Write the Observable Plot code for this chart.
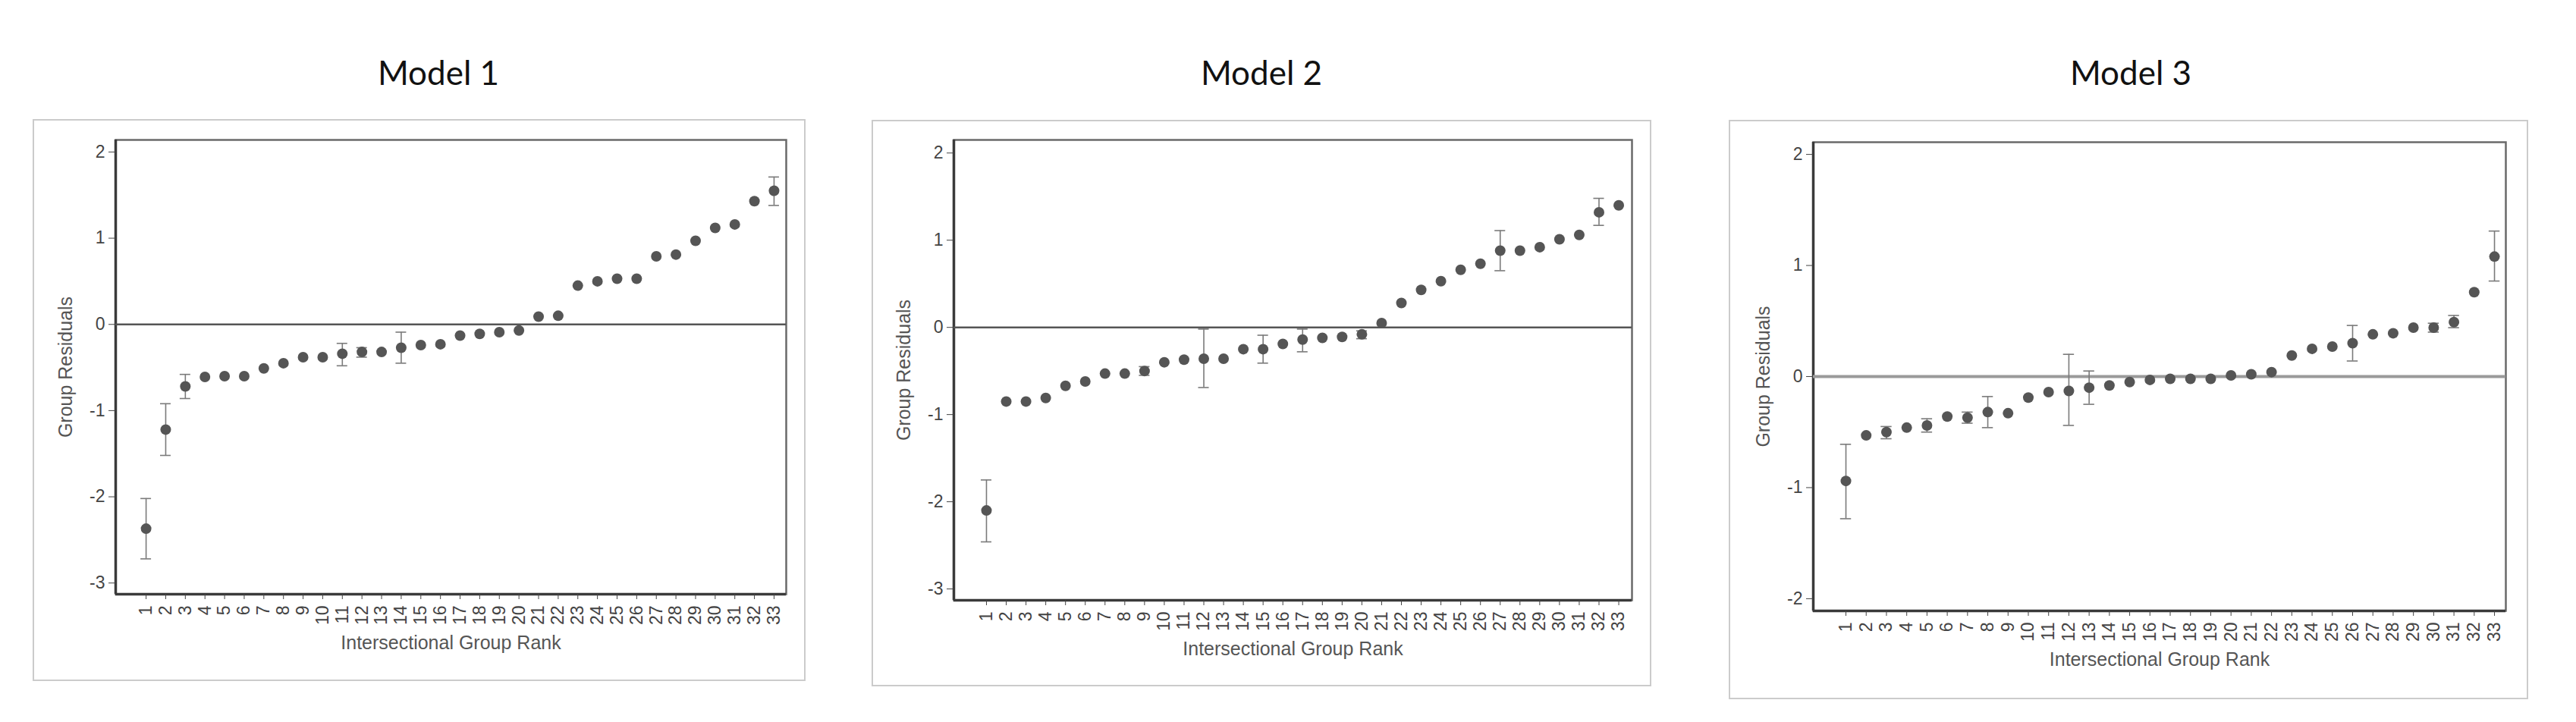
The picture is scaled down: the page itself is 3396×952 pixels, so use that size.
<!DOCTYPE html>
<html><head><meta charset="utf-8">
<script src="https://cdn.jsdelivr.net/npm/d3@7"></script>
<script src="https://cdn.jsdelivr.net/npm/@observablehq/plot@0.6"></script>
<style>
body{margin:0;background:#fff;}
#page{position:relative;width:3396px;height:952px;overflow:hidden;font-family:"Liberation Sans",Arial,sans-serif;}
.title{position:absolute;font-family:Lato,"Open Sans",sans-serif;font-size:44px;color:#111;transform:translate(-50%,-50%);white-space:nowrap;line-height:1;}
.panel{position:absolute;border:2px solid #cbcbcb;box-sizing:border-box;background:#fff;}
.panel svg{display:block;}
</style></head><body><div id="page"></div>
<script>
// ---- data ----
const ranks = [1,2,3,4,5,6,7,8,9,10,11,12,13,14,15,16,17,18,19,20,21,22,23,24,25,26,27,28,29,30,31,32,33];
const titles = ["Model 1","Model 2","Model 3"];
const model1Residuals = [-2.37,-1.22,-0.72,-0.61,-0.60,-0.60,-0.51,-0.45,-0.38,-0.38,-0.34,-0.32,-0.32,-0.27,-0.24,-0.23,-0.13,-0.11,-0.09,-0.07,0.09,0.10,0.45,0.50,0.53,0.53,0.79,0.81,0.97,1.12,1.16,1.43,1.55];
const model2Residuals = [-2.10,-0.85,-0.85,-0.81,-0.67,-0.62,-0.53,-0.53,-0.50,-0.40,-0.37,-0.36,-0.36,-0.25,-0.25,-0.19,-0.14,-0.12,-0.11,-0.08,0.05,0.28,0.43,0.53,0.66,0.73,0.88,0.88,0.92,1.01,1.06,1.32,1.40];
const model3Residuals = [-0.94,-0.53,-0.50,-0.46,-0.44,-0.36,-0.37,-0.32,-0.33,-0.19,-0.14,-0.13,-0.10,-0.08,-0.05,-0.03,-0.02,-0.02,-0.02,0.01,0.02,0.04,0.19,0.25,0.27,0.30,0.38,0.39,0.44,0.44,0.49,0.76,1.08];
// confidence intervals (only where visible beyond the marker)
const model1CiRank = [1,2,3,11,12,14,33];
const model1CiLow  = [-2.72,-1.52,-0.86,-0.48,-0.38,-0.45,1.38];
const model1CiHigh = [-2.02,-0.92,-0.58,-0.22,-0.27,-0.09,1.71];
const model2CiRank = [1,9,12,15,17,20,27,32];
const model2CiLow  = [-2.46,-0.55,-0.69,-0.41,-0.28,-0.13,0.65,1.17];
const model2CiHigh = [-1.75,-0.45,-0.02,-0.09,-0.02,-0.04,1.11,1.48];
const model3CiRank = [1,3,5,7,8,12,13,26,30,31,33];
const model3CiLow  = [-1.28,-0.56,-0.50,-0.42,-0.46,-0.44,-0.25,0.14,0.40,0.44,0.86];
const model3CiHigh = [-0.61,-0.45,-0.38,-0.32,-0.18,0.20,0.05,0.46,0.48,0.55,1.31];
const yTicks12 = [-3,-2,-1,0,1,2];
const yTicks3 = [-2,-1,0,1,2];
const xLabel = "Intersectional Group Rank";
const yLabel = "Group Residuals";

// ---- layout ----
const panels = [
  {title: titles[0], vals: model1Residuals, ciR: model1CiRank, ciL: model1CiLow, ciH: model1CiHigh,
   box: [43,157,1019,741], m: [25,24,113,107], xd: [-0.55,33.62], yd: [-3.13,2.14], yt: yTicks12, tc: [578,95],
   zero: {stroke:"#555", w:2.5}},
  {title: titles[1], vals: model2Residuals, ciR: model2CiRank, ciL: model2CiLow, ciH: model2CiHigh,
   box: [1149,158,1028,747], m: [24,24,112,106], xd: [-0.65,33.67], yd: [-3.13,2.15], yt: yTicks12, tc: [1663,95],
   zero: {stroke:"#555", w:2.5}},
  {title: titles[2], vals: model3Residuals, ciR: model3CiRank, ciL: model3CiLow, ciH: model3CiHigh,
   box: [2279,158,1054,764], m: [27,28,115,109], xd: [-0.61,33.56], yd: [-2.11,2.11], yt: yTicks3, tc: [2809,95],
   zero: {stroke:"#9a9a9a", w:4}}
];

const page = document.getElementById("page");
for (const p of panels) {
  const t = document.createElement("div");
  t.className = "title"; t.textContent = p.title;
  t.style.left = p.tc[0] + "px"; t.style.top = p.tc[1] + "px";
  page.appendChild(t);

  const data = ranks.map((r, i) => ({rank: r, value: p.vals[i]}));
  const ci = p.ciR.map((r, i) => ({rank: r, lo: p.ciL[i], hi: p.ciH[i]}));
  const [bx, by, bw, bh] = p.box;
  const div = document.createElement("div");
  div.className = "panel";
  div.style.left = bx + "px"; div.style.top = by + "px";
  div.style.width = bw + "px"; div.style.height = bh + "px";

  const chart = Plot.plot({
    width: bw - 4, height: bh - 4,
    marginTop: p.m[0], marginRight: p.m[1], marginBottom: p.m[2], marginLeft: p.m[3],
    style: {fontFamily: '"Liberation Sans", Arial, sans-serif', background: "#fff", overflow: "visible"},
    x: {type: "linear", domain: p.xd},
    y: {domain: p.yd},
    marks: [
      Plot.frame({stroke: "#6a6a6a", strokeWidth: 2.5}),
      Plot.ruleX([p.xd[0]], {stroke: "#3a3a3a", strokeWidth: 3.5}),
      Plot.ruleY([p.yd[0]], {stroke: "#3a3a3a", strokeWidth: 3.5}),
      Plot.ruleY([0], {stroke: p.zero.stroke, strokeWidth: p.zero.w}),
      Plot.ruleX(ci, {x: "rank", y1: "lo", y2: "hi", stroke: "#7a7a7a", strokeWidth: 1.6}),
      Plot.ruleY(ci, {y: "lo", x1: d => d.rank - 0.27, x2: d => d.rank + 0.27, stroke: "#7a7a7a", strokeWidth: 1.6}),
      Plot.ruleY(ci, {y: "hi", x1: d => d.rank - 0.27, x2: d => d.rank + 0.27, stroke: "#7a7a7a", strokeWidth: 1.6}),
      Plot.dot(data, {x: "rank", y: "value", r: 7, fill: "#555", stroke: "none"}),
      Plot.axisY({ticks: p.yt, tickFormat: d => String(d), tickSize: 9, tickPadding: 5, fontSize: 23, color: "#444", label: null}),
      Plot.axisX({ticks: ranks, tickFormat: d => String(d), tickRotate: -90, tickSize: 7, tickPadding: 8, fontSize: 23, color: "#444", label: null}),
      Plot.text([yLabel], {frameAnchor: "left", dx: -66, rotate: -90, textAnchor: "middle", lineAnchor: "middle", fontSize: 25, fill: "#555"}),
      Plot.text([xLabel], {frameAnchor: "bottom", dy: 64, textAnchor: "middle", lineAnchor: "middle", fontSize: 25, fill: "#555"})
    ]
  });
  div.appendChild(chart);
  page.appendChild(div);
}
</script>
</body></html>
